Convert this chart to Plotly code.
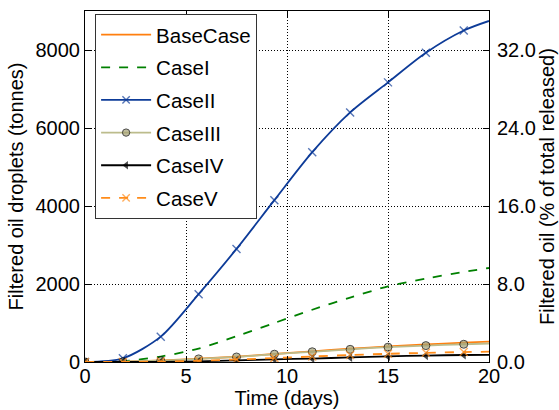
import plotly.graph_objects as go

# Sample times (days) at which each run was recorded / marked
days = [0, 1.875, 3.75, 5.625, 7.5, 9.375, 11.25, 13.125, 15.0, 16.875, 18.75, 20.0]

# Filtered oil droplets (tonnes) for each scenario
base_case = [0, 10, 40, 85, 135, 205, 275, 340, 400, 450, 495, 520]
case_i = [0, 20, 140, 345, 660, 1000, 1340, 1650, 1940, 2140, 2310, 2410]
case_ii = [0, 95, 650, 1740, 2900, 4150, 5380, 6400, 7170, 7930, 8500, 8745]
case_iii = [0, 8, 35, 80, 129, 200, 262, 325, 380, 420, 455, 475]
case_iv = [0, 1, 5, 18, 42, 68, 88, 118, 145, 165, 180, 185]
case_v = [0, 2, 10, 30, 65, 100, 140, 180, 210, 235, 255, 265]

# Total oil released (tonnes), used for the percentage axis
total_released = 25000.0

x_ticks = [0, 5, 10, 15, 20]
y_ticks = [0, 2000, 4000, 6000, 8000]
pct_ticks = [0, 8, 16, 24, 32]
y_max = 9000

FONT = "Liberation Sans, Arial, sans-serif"

# marker only on the regular marker times, not on the final sample
def marker_sizes(size):
    return [size] * (len(days) - 1) + [0]

series = [
    dict(name="BaseCase", y=base_case, color="#ff7f0e", dash="solid", symbol=None),
    dict(name="CaseI", y=case_i, color="#008000", dash="dash", symbol=None),
    dict(name="CaseII", y=case_ii, color="#0d3b98", dash="solid", symbol="x-thin"),
    dict(name="CaseIII", y=case_iii, color="#bcbc8c", dash="solid", symbol="circle"),
    dict(name="CaseIV", y=case_iv, color="#000000", dash="solid", symbol="triangle-left"),
    dict(name="CaseV", y=case_v, color="#ff8c1a", dash="dash", symbol="x-thin"),
]

fig = go.Figure()
for s in series:
    kw = dict(
        x=days, y=s["y"], name=s["name"], legendgroup=s["name"],
        line=dict(color=s["color"], width=1.8, dash=s["dash"], shape="spline", smoothing=0.8),
    )
    if s["symbol"] is None:
        kw["mode"] = "lines"
    else:
        kw["mode"] = "lines+markers"
        if s["symbol"] == "x-thin":
            marker = dict(symbol="x-thin", size=marker_sizes(8), color=s["color"],
                          line=dict(color=s["color"], width=1.4))
        elif s["symbol"] == "circle":
            marker = dict(symbol="circle", size=marker_sizes(8), color="#a6a274",
                          line=dict(color="#000000", width=1))
        else:
            marker = dict(symbol="triangle-left", size=marker_sizes(8), color="#000000",
                          line=dict(color="#000000", width=0))
        kw["marker"] = marker
    fig.add_trace(go.Scatter(**kw))

# invisible trace carrying the percentage axis
fig.add_trace(go.Scatter(
    x=[days[0], days[-1]], y=[0, y_max / total_released * 100], yaxis="y2",
    mode="lines", line=dict(width=0), showlegend=False, hoverinfo="skip",
))

axis_common = dict(
    showline=True, linecolor="#000000", linewidth=1,
    ticks="inside", ticklen=6, tickcolor="#000000",
    tickfont=dict(family=FONT, size=20, color="#000000"),
    showgrid=True, gridcolor="#000000", gridwidth=1, griddash="1px,2px",
    zeroline=False, automargin=False,
)

fig.update_layout(
    width=559, height=410,
    margin=dict(l=85, r=70, t=11, b=48),
    paper_bgcolor="#ffffff", plot_bgcolor="#ffffff",
    font=dict(family=FONT, size=20, color="#000000"),
    xaxis=dict(
        range=[0, 20], tickvals=x_ticks, mirror="ticks", ticklabelstandoff=-4,
        title=dict(text="Time (days)", font=dict(family=FONT, size=20), standoff=4),
        **axis_common,
    ),
    yaxis=dict(
        range=[0, y_max], tickvals=y_ticks, tickformat="d", mirror="ticks",
        title=dict(text="Filtered oil droplets (tonnes)", font=dict(family=FONT, size=20), standoff=6),
        **axis_common,
    ),
    yaxis2=dict(
        overlaying="y", side="right",
        range=[0, y_max / total_released * 100], tickvals=pct_ticks, tickformat=".1f",
        showline=False, ticks="inside", ticklen=6, tickcolor="#000000",
        tickfont=dict(family=FONT, size=20, color="#000000"),
        ticklabelstandoff=7,
        showgrid=False, zeroline=False, automargin=False,
        title=dict(text="Filtered oil (% of total released)", font=dict(family=FONT, size=20), standoff=0),
    ),
    legend=dict(
        x=0.025, y=0.992, xanchor="left", yanchor="top",
        bgcolor="#ffffff", bordercolor="#333333", borderwidth=1,
        font=dict(family=FONT, size=20.5, color="#000000"),
        traceorder="grouped", tracegroupgap=3, itemwidth=50,
    ),
    showlegend=True,
)

fig.write_html("out.html")
